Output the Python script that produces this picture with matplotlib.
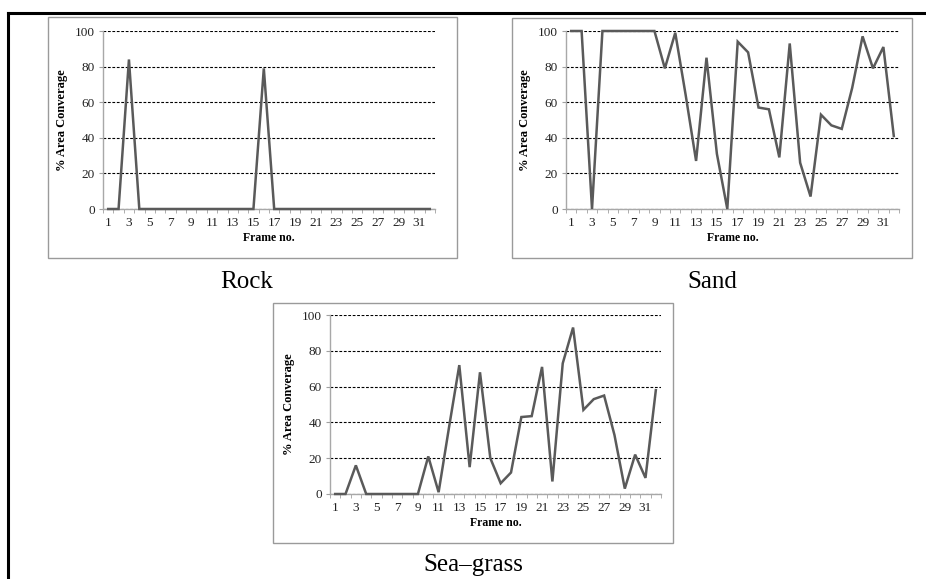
import matplotlib
matplotlib.use("Agg")
import matplotlib.pyplot as plt
from matplotlib.patches import Rectangle
from matplotlib.lines import Line2D
import numpy as np

frames = list(range(1, 33))
rock = [0, 0, 84, 0, 0, 0, 0, 0, 0, 0, 0, 0, 0, 0, 0, 79,
        0, 0, 0, 0, 0, 0, 0, 0, 0, 0, 0, 0, 0, 0, 0, 0]
sand = [100, 100, 0, 100, 100, 100, 100, 100, 100, 79, 99, 64, 27, 85, 31, 0,
        94, 88, 57, 56, 29, 93, 26, 7, 53, 47, 45, 68, 97, 79, 91, 41]
seagrass = [0, 0, 16, 0, 0, 0, 0, 0, 0, 21, 1, 37, 72, 15, 68, 20,
            6, 12, 43, 43.5, 71, 7, 73, 93, 47, 53, 55, 33, 3, 22, 9, 58]
captions = ["Rock", "Sand", "Sea\u2013grass"]
ylabel = "% Area Converage"
xlabel = "Frame no."
yticks = [0, 20, 40, 60, 80, 100]
xtick_labels = [str(i) for i in range(1, 33, 2)]

W, H = 926, 579
fig = plt.figure(figsize=(W / 100, H / 100), dpi=100)
plt.rcParams['font.family'] = ['Liberation Serif', 'DejaVu Serif']

def fx(x):
    return x / W

def fy(y):
    return 1 - y / H

def panel(data, axbox, framebox, caption, cap_xy):
    x0, y0, x1, y1 = framebox
    fig.patches.append(Rectangle((fx(x0), fy(y1)), fx(x1) - fx(x0), fy(y0) - fy(y1),
                                 transform=fig.transFigure, fill=False,
                                 edgecolor='#9a9a9a', linewidth=1.0))
    ax0, ay0, ax1, ay1 = axbox
    ax = fig.add_axes([fx(ax0), fy(ay1), fx(ax1) - fx(ax0), fy(ay0) - fy(ay1)])
    ax.plot(frames, data, color='#5a5a5a', linewidth=1.8, clip_on=False,
            solid_joinstyle='miter', zorder=3)
    ax.set_xlim(0.5, 32.5)
    ax.set_ylim(0, 100)
    ax.set_yticks(yticks)
    ax.set_yticklabels([str(v) for v in yticks], fontsize=9.5, color='#222222')
    ax.set_xticks(range(1, 33, 2))
    ax.set_xticklabels(xtick_labels, fontsize=9.5, color='#222222')
    ax.set_xticks(np.arange(0.5, 33, 1), minor=True)
    ax.tick_params(axis='x', which='major', length=0, pad=6)
    ax.tick_params(axis='x', which='minor', length=3, color='#a0a0a0', direction='out')
    ax.tick_params(axis='y', which='major', length=3, color='#a0a0a0', pad=3)
    for y in yticks:
        ax.axhline(y, color='black', linestyle=(0, (2.5, 1.5)), linewidth=0.8, zorder=0)
    for s in ['top', 'right']:
        ax.spines[s].set_visible(False)
    ax.spines['left'].set_color('#a8a8a8')
    ax.spines['bottom'].set_color('#a8a8a8')
    ax.spines['left'].set_linewidth(1.0)
    ax.spines['bottom'].set_linewidth(1.0)
    ax.set_xlabel(xlabel, fontsize=8.5, fontweight='bold', labelpad=2)
    ax.set_ylabel(ylabel, fontsize=9, fontweight='bold', labelpad=5)
    ax.set_facecolor('none')
    fig.text(fx(cap_xy[0]), fy(cap_xy[1]), caption, ha='center', va='center', fontsize=18)
    return ax

panel(rock, (103, 31, 435, 209), (48, 17, 457, 258), captions[0], (247, 282))
panel(sand, (566, 31, 899, 209), (512, 18, 912, 258), captions[1], (712, 282))
panel(seagrass, (330, 315, 661, 494), (273, 303, 673, 543), captions[2], (473, 565))

fig.lines.append(Line2D([fx(8), 1.0], [fy(13), fy(13)], transform=fig.transFigure,
                        color='black', linewidth=2.2))
fig.lines.append(Line2D([fx(8), fx(8)], [fy(13), 0.0], transform=fig.transFigure,
                        color='black', linewidth=2.2))

fig.savefig("out.png", dpi=100)
